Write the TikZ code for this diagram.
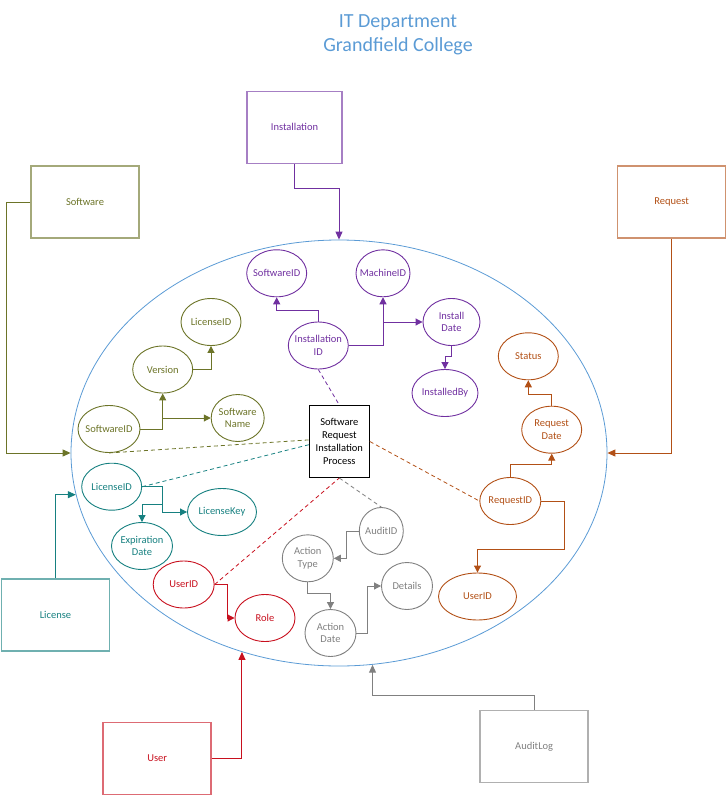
\documentclass[tikz,border=0pt]{standalone}
\usepackage{fontspec}
\setmainfont{Carlito}
\usetikzlibrary{arrows.meta, shapes.geometric, calc}

\definecolor{sysblue}{RGB}{91,155,213}
\definecolor{instcol}{RGB}{112,48,160}
\definecolor{swcol}{RGB}{108,116,40}
\definecolor{liccol}{RGB}{22,128,128}
\definecolor{usercol}{RGB}{200,16,30}
\definecolor{reqcol}{RGB}{178,80,22}
\definecolor{audcol}{RGB}{128,128,128}

\begin{document}
\begin{tikzpicture}[
        x=1pt, y=-1pt,
        entity/.style={
            draw=#1!62,
            text=#1,
            rectangle,
            minimum width=108,
            minimum height=72,
            line width=1.5pt,
            align=center,
            font=\fontsize{10.5}{12.7}\selectfont
        },
        attribute/.style={
            draw,
            ellipse,
            minimum height=47,
            inner xsep=-22pt,
            inner ysep=0pt,
            line width=0.9pt,
            align=center,
            font=\fontsize{10.5}{12.7}\selectfont
        },
        process/.style={
            draw,
            rectangle,
            minimum width=60,
            minimum height=72,
            inner xsep=1pt,
            line width=1pt,
            align=center,
            font=\fontsize{10.5}{12.8}\selectfont
        },
        link/.style={
            -{Triangle[length=7pt, width=7pt]},
            line width=1pt
        },
        feed/.style={
            -{Triangle[length=8pt, width=7pt]},
            line width=1pt
        },
        relation/.style={
            dash pattern=on 4pt off 3pt,
            line width=0.8pt
        }
    ]

        \useasboundingbox (0,0) rectangle (727,796);

        % ---------------------------------------------------------------------
        % Title and system boundary
        % ---------------------------------------------------------------------

        \node[
            sysblue,
            align=center,
            font=\fontsize{20}{24.5}\selectfont
        ] (title) at (398,35) {
            IT Department\\
            Grandfield College
        };

        \node[
            draw=sysblue,
            ellipse,
            line width=0.8pt,
            minimum width=536,
            minimum height=426,
            inner sep=0pt
        ] (system) at (339,453) {};

        \node[process] (proc) at (339.3,441.5) {
            Software\\Request\\Installation\\Process
        };

        % ---------------------------------------------------------------------
        % Entities outside the boundary
        % ---------------------------------------------------------------------

        \node[entity=instcol, minimum width=95] (inst) at (294.5,127.3) {Installation};
        \node[entity=swcol] (sw) at (85,202) {Software};
        \node[entity=reqcol] (req) at (671.7,202) {Request};
        \node[entity=liccol] (lic) at (55.5,615) {License};
        \node[entity=usercol] (user) at (157.2,758.5) {User};
        \node[entity=audcol] (audit) at (534.2,746.5) {AuditLog};

        \draw[feed, instcol] (inst.south) -- ++(0,24) -| (system.north);
        \draw[feed, swcol] (sw.west) -- ++(-24,0) |- (system.west);
        \draw[feed, reqcol] (req.south) |- (system.east);
        \draw[feed, liccol] (lic.north) |- (system.189.7);
        \draw[feed, usercol] (user.east) -| (system.244.85);
        \draw[feed, audcol] (audit.north) -- ++(0,-14) -| (system.279.95);

        % ---------------------------------------------------------------------
        % Installation attributes
        % ---------------------------------------------------------------------

        \node[attribute, instcol, minimum width=60] (iswid) at (276.7,273.3) {SoftwareID};
        \node[attribute, instcol, minimum width=54] (imach) at (383,273.3) {MachineID};
        \node[attribute, instcol, minimum width=60] (iid) at (318.3,345.5) {Installation\\ID};
        \node[attribute, instcol, minimum width=57] (idate) at (451.5,322) {Install\\Date};
        \node[attribute, instcol, minimum width=66] (iby) at (445,393) {InstalledBy};

        \coordinate (ijoin) at (imach.south |- idate.west);

        \draw[link, instcol] (iid.north) -- ++(0,-11.5) -| (iswid.south);
        \draw[link, instcol] (iid.east) -| (imach.south);
        \draw[link, instcol] (ijoin) -- (idate.west);
        \draw[link, instcol] (idate.south) -- ++(0,11) -| (iby.north);

        % ---------------------------------------------------------------------
        % Software attributes
        % ---------------------------------------------------------------------

        \node[attribute, swcol, minimum width=60] (olic) at (211,322) {LicenseID};
        \node[attribute, swcol, minimum width=60] (over) at (162.7,369.5) {Version};
        \node[attribute, swcol, minimum width=62] (oswid) at (109,429) {SoftwareID};
        \node[attribute, swcol, minimum width=53] (oname) at (237.7,418) {Software\\Name};

        \coordinate (ojoin) at (over.south |- oname.west);

        \draw[link, swcol] (over.east) -| (olic.south);
        \draw[link, swcol] (oswid.east) -| (over.south);
        \draw[link, swcol] (ojoin) -- (oname.west);

        % ---------------------------------------------------------------------
        % License attributes
        % ---------------------------------------------------------------------

        \node[attribute, liccol, minimum width=60] (tlic) at (111.7,486.7) {LicenseID};
        \node[attribute, liccol, minimum width=69] (tkey) at (222,512) {LicenseKey};
        \node[attribute, liccol, minimum width=61] (texp) at (142,546) {Expiration\\Date};

        \coordinate (tjoin) at ($(tlic.east)+(20.6,17.3)$);

        \draw[link, liccol] (tlic.east) -- ++(20.6,0) |- (tkey.west);
        \draw[link, liccol] (tjoin) -| (texp.north);

        % ---------------------------------------------------------------------
        % User attributes
        % ---------------------------------------------------------------------

        \node[attribute, usercol, minimum width=61] (ruid) at (183.7,584.5) {UserID};
        \node[attribute, usercol, minimum width=60] (rrole) at (265,618) {Role};

        \draw[link, usercol] (ruid.east) -- ++(12.7,0) |- (rrole.west);

        % ---------------------------------------------------------------------
        % AuditLog attributes
        % ---------------------------------------------------------------------

        \node[attribute, audcol, minimum width=44] (gaud) at (381.3,531) {AuditID};
        \node[attribute, audcol, minimum width=51] (gtype) at (307.8,558.3) {Action\\Type};
        \node[attribute, audcol, minimum width=51] (gdate) at (330.5,633) {Action\\Date};
        \node[attribute, audcol, minimum width=51] (gdet) at (407,586) {Details};

        \draw[link, audcol] (gaud.west) -- ++(-12,0) |- (gtype.east);
        \draw[link, audcol] (gtype.south) -- ++(0,11.6) -| (gdate.north);
        \draw[link, audcol] (gdate.east) -- ++(10.7,0) |- (gdet.west);

        % ---------------------------------------------------------------------
        % Request attributes
        % ---------------------------------------------------------------------

        \node[attribute, reqcol, minimum width=60] (bstat) at (528.3,356.3) {Status};
        \node[attribute, reqcol, minimum width=60] (bdate) at (551.7,429.7) {Request\\Date};
        \node[attribute, reqcol, minimum width=61] (brid) at (510.3,501) {RequestID};
        \node[attribute, reqcol, minimum width=78] (buid) at (477.5,596.5) {UserID};

        \draw[link, reqcol] (bdate.north) -- ++(0,-11) -| (bstat.south);
        \draw[link, reqcol] (brid.north) -- ++(0,-12.3) -| (bdate.south);
        \draw[link, reqcol] (brid.east) -- ++(23.3,0) -- ++(0,48) -| (buid.north);

        % ---------------------------------------------------------------------
        % Relations to the process
        % ---------------------------------------------------------------------

        \draw[relation, instcol] (iid.south) -- (proc.north);
        \draw[relation, swcol] (oswid.south) -- (proc.177);
        \draw[relation, liccol] (tlic.east) -- (proc.186);
        \draw[relation, usercol] (ruid.east) -- (proc.south);
        \draw[relation, audcol] (proc.south) -- (gaud.north);
        \draw[relation, reqcol] (proc.east) -- (brid.west);

    \end{tikzpicture}
\end{document}
